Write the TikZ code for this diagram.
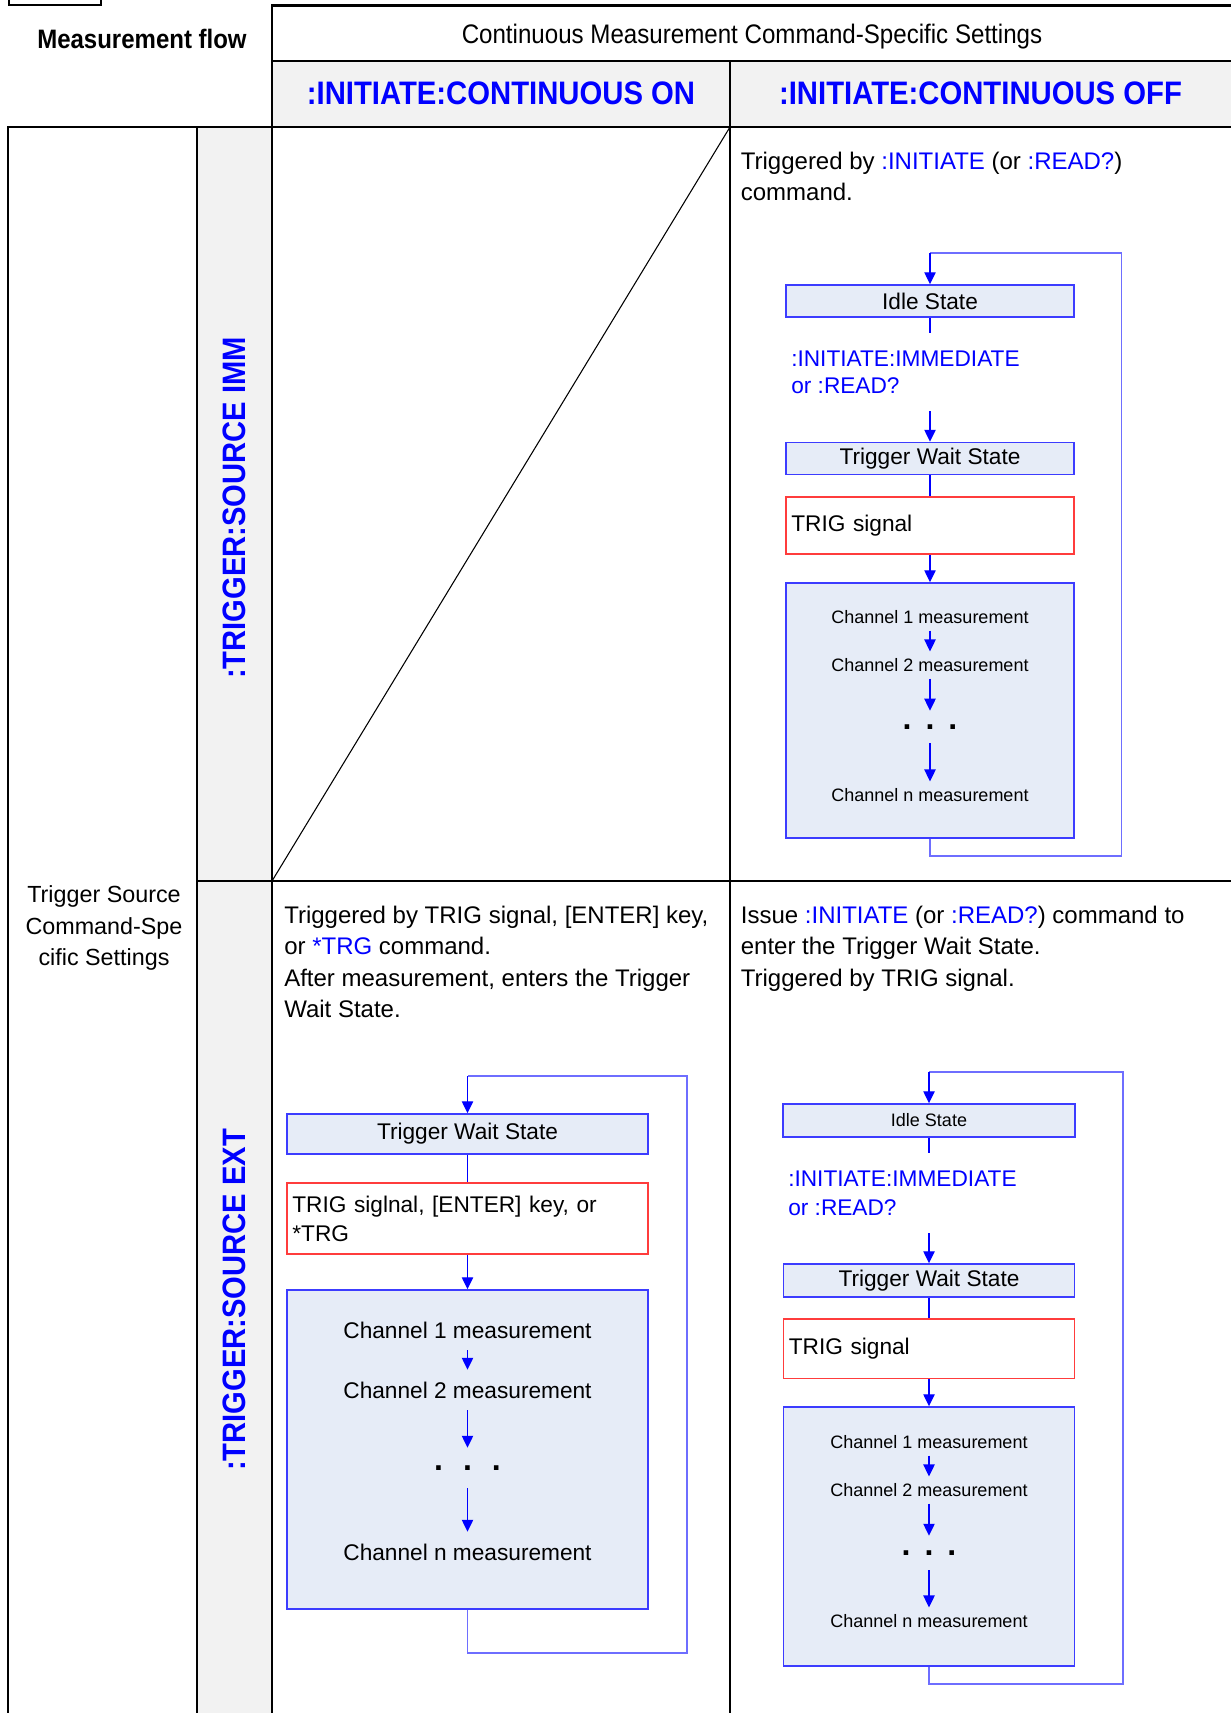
\documentclass[tikz,border=0pt]{standalone}
\usepackage{fontspec}
\setmainfont{Liberation Sans}
\newfontfamily\narrowfont[FakeStretch=0.9]{Liberation Sans}
\usepackage{xcolor}
\usepackage{tikz}
\usetikzlibrary{arrows.meta}

\definecolor{hdrgray}{RGB}{242,242,242}
\definecolor{boxfill}{RGB}{230,236,247}
\definecolor{boxblue}{RGB}{60,60,255}
\definecolor{loopblue}{RGB}{110,110,255}
\definecolor{sigred}{RGB}{255,60,60}

\newcommand{\fsz}[2]{\fontsize{#1}{#2}\selectfont}
\newcommand{\ellipdots}[1]{.\hspace{#1}.\hspace{#1}.}

\begin{document}
\begin{tikzpicture}[x=0.75pt,y=-0.75pt,
    thickrule/.style={line width=2pt},
    midrule/.style={line width=1.3pt},
    thinrule/.style={line width=0.8pt},
    statebox/.style={draw=boxblue, fill=boxfill, line width=1.1pt, inner sep=0pt},
    sigbox/.style={draw=sigred, fill=white, line width=1.1pt, inner sep=4pt, align=left},
    chanbox/.style={draw=boxblue, fill=boxfill, line width=1.1pt, inner sep=0pt},
    chantext/.style={inner sep=5pt},
    ellip/.style={inner sep=0pt, font=\fsz{24}{24}\bfseries},
    cmdtext/.style={blue, anchor=base west, inner sep=0pt, align=left},
    desc/.style={anchor=base west, inner sep=0pt, align=left, font=\fsz{18}{23.7}},
    flowarrow/.style={blue, line width=1pt, -{Triangle[width=8.5pt,length=9pt]}},
    flowline/.style={blue, line width=1pt},
    loopline/.style={loopblue, line width=1.1pt}]
    \useasboundingbox (0,0) rectangle (1231,1713);

    % table
    \fill[hdrgray] (272,61) rectangle (1231,127);
    \fill[hdrgray] (197,127) rectangle (272,1713);
    \draw[line width=1.5pt] (9,0) -- (9,4.5) -- (101,4.5) -- (101,0);
    \draw[thickrule] (272,1713) -- (272,5.5) -- (1231,5.5);
    \draw[midrule] (272,61) -- (1231,61);
    \draw[thickrule] (8,1713) -- (8,127) -- (1231,127);
    \draw[line width=1.6pt] (197,127) -- (197,1713);
    \draw[midrule] (730,61) -- (730,127);
    \draw[thinrule] (730,127) -- (730,1713);
    \draw[midrule] (197,881) -- (272,881);
    \draw[thinrule] (272,881) -- (1231,881);
    \draw[thinrule] (730,127) -- (272,881);

    \node[font=\narrowfont\bfseries\fsz{20}{24}] (flowhdr) at (142,39) {Measurement flow};
    \node[anchor=base, font=\narrowfont\fsz{20.1}{24}] (contset) at (752,43) {Continuous Measurement Command-Specific Settings};
    \node[blue, font=\narrowfont\bfseries\fsz{24.4}{28}] (conton) at (501,93) {:INITIATE:CONTINUOUS ON};
    \node[blue, font=\narrowfont\bfseries\fsz{24.4}{28}] (contoff) at (980.5,93) {:INITIATE:CONTINUOUS OFF};
    \node[blue, rotate=90, font=\narrowfont\bfseries\fsz{24.3}{28}] (srcimm) at (234.5,508) {:TRIGGER:SOURCE IMM};
    \node[blue, rotate=90, font=\narrowfont\bfseries\fsz{24.3}{28}] (srcext) at (234.5,1300) {:TRIGGER:SOURCE EXT};
    \node[align=center, font=\fsz{17.5}{23.7}] (srcset) at (104,928) {Trigger Source\\Command-Spe\\cific Settings};

    % IMM / OFF
    \node[desc] (descA) at (740.6,200.6) {Triggered by \textcolor{blue}{:INITIATE} (or \textcolor{blue}{:READ?})\\command.};
    \node[statebox, minimum width=216pt, minimum height=24pt, font=\fsz{17}{20}] (idleA) at (930,301) {Idle State};
    \node[cmdtext, font=\fsz{17}{20.7}] (cmdA) at (791,393.6) {:INITIATE:IMMEDIATE\\or :READ?};
    \node[statebox, minimum width=216pt, minimum height=24pt, font=\fsz{17}{20}] (twsA) at (930,458.5) {Trigger Wait State};
    \node[sigbox, text width=208pt, minimum height=42.75pt, font=\fsz{17}{20}] (sigA) at (930,525.5) {TRIG signal};
    \node[chanbox, minimum width=216pt, minimum height=191.25pt] (chanA) at (930,710.5) {};
    \node[chantext, font=\fsz{13.5}{16}] (ch1A) at (930,617) {Channel 1 measurement};
    \node[chantext, font=\fsz{13.5}{16}] (ch2A) at (930,665) {Channel 2 measurement};
    \node[ellip, minimum height=24pt] (dotsA) at (930,727) {\ellipdots{10.5pt}};
    \node[chantext, font=\fsz{13.5}{16}] (chnA) at (930,795) {Channel n measurement};
    \coordinate (ctopA) at (930,333);
    \coordinate (cbotA) at (930,411);
    \coordinate (lbA) at (1121.7,856);
    \coordinate (ltA) at (1121.7,253);
    \coordinate (lcA) at (930,253);
    \draw[flowline] (idleA) -- (ctopA);
    \draw[flowarrow] (cbotA) -- (twsA);
    \draw[flowline] (twsA) -- (sigA);
    \draw[flowarrow] (sigA) -- (chanA);
    \draw[flowarrow] (ch1A) -- (ch2A);
    \draw[flowarrow] (ch2A) -- (dotsA);
    \draw[flowarrow] (dotsA) -- (chnA);
    \draw[loopline] (chanA.south) |- (lbA) -- (ltA) -- (lcA);
    \draw[flowarrow] (lcA) -- (idleA);

    % EXT / ON
    \node[desc] (descB) at (284,1017.8) {Triggered by TRIG signal, [ENTER] key,\\or \textcolor{blue}{*TRG} command.\\After measurement, enters the Trigger\\Wait State.};
    \node[statebox, minimum width=270.75pt, minimum height=30pt, font=\fsz{17}{20}] (twsB) at (467.5,1134) {Trigger Wait State};
    \node[sigbox, text width=262.75pt, minimum height=53.25pt, font=\fsz{17}{21.75}] (sigB) at (467.5,1218.4) {TRIG siglnal, [ENTER] key, or\\{}*TRG};
    \node[chanbox, minimum width=270.75pt, minimum height=239.25pt] (chanB) at (467.5,1449.5) {};
    \node[chantext, inner sep=8.75pt, font=\fsz{17}{20}] (ch1B) at (467.5,1330) {Channel 1 measurement};
    \node[chantext, inner sep=8.75pt, font=\fsz{17}{20}] (ch2B) at (467.5,1390) {Channel 2 measurement};
    \node[ellip, minimum height=30pt] (dotsB) at (467.5,1468) {\ellipdots{15pt}};
    \node[chantext, inner sep=8.75pt, font=\fsz{17}{20}] (chnB) at (467.5,1552) {Channel n measurement};
    \coordinate (lbB) at (687,1653);
    \coordinate (ltB) at (687,1076);
    \coordinate (lcB) at (467.5,1076);
    \draw[flowline] (twsB) -- (sigB);
    \draw[flowarrow] (sigB) -- (chanB);
    \draw[flowarrow] (ch1B) -- (ch2B);
    \draw[flowarrow] (ch2B) -- (dotsB);
    \draw[flowarrow] (dotsB) -- (chnB);
    \draw[loopline] (chanB.south) |- (lbB) -- (ltB) -- (lcB);
    \draw[flowarrow] (lcB) -- (twsB);

    % EXT / OFF
    \node[desc] (descC) at (740.6,986.2) {Issue \textcolor{blue}{:INITIATE} (or \textcolor{blue}{:READ?}) command to\\enter the Trigger Wait State.\\Triggered by TRIG signal.};
    \node[statebox, minimum width=219pt, minimum height=24.75pt, font=\fsz{13.5}{16}] (idleC) at (929,1120.5) {Idle State};
    \node[cmdtext, font=\fsz{17}{21.75}] (cmdC) at (788,1215) {:INITIATE:IMMEDIATE\\or :READ?};
    \node[statebox, minimum width=218.25pt, minimum height=24.75pt, font=\fsz{17}{20}] (twsC) at (929,1280.5) {Trigger Wait State};
    \node[sigbox, text width=210.25pt, minimum height=44.6pt, font=\fsz{17}{20}] (sigC) at (929,1348.75) {TRIG signal};
    \node[chanbox, minimum width=218.25pt, minimum height=194.25pt] (chanC) at (929,1536.5) {};
    \node[chantext, font=\fsz{13.5}{16}] (ch1C) at (929,1442) {Channel 1 measurement};
    \node[chantext, font=\fsz{13.5}{16}] (ch2C) at (929,1490) {Channel 2 measurement};
    \node[ellip, minimum height=25.5pt] (dotsC) at (929,1553) {\ellipdots{10.5pt}};
    \node[chantext, font=\fsz{13.5}{16}] (chnC) at (929,1621) {Channel n measurement};
    \coordinate (ctopC) at (929,1153);
    \coordinate (cbotC) at (929,1233);
    \coordinate (lbC) at (1123,1684);
    \coordinate (ltC) at (1123,1072);
    \coordinate (lcC) at (929,1072);
    \draw[flowline] (idleC) -- (ctopC);
    \draw[flowarrow] (cbotC) -- (twsC);
    \draw[flowline] (twsC) -- (sigC);
    \draw[flowarrow] (sigC) -- (chanC);
    \draw[flowarrow] (ch1C) -- (ch2C);
    \draw[flowarrow] (ch2C) -- (dotsC);
    \draw[flowarrow] (dotsC) -- (chnC);
    \draw[loopline] (chanC.south) |- (lbC) -- (ltC) -- (lcC);
    \draw[flowarrow] (lcC) -- (idleC);
\end{tikzpicture}
\end{document}
